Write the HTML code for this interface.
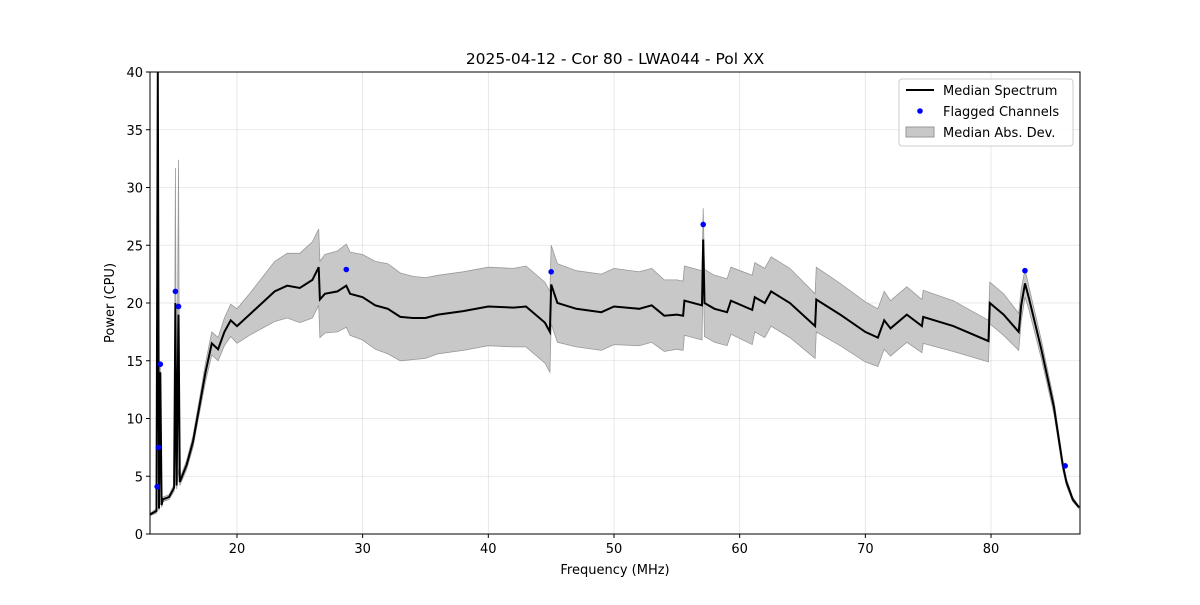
<!DOCTYPE html>
<html><head><meta charset="utf-8"><style>
body{margin:0;background:#fff;}
svg text{font-family:"DejaVu Sans","Liberation Sans",sans-serif;fill:#000;}
</style></head><body>
<svg id="chart" width="1200" height="600" xmlns="http://www.w3.org/2000/svg"></svg>
<script>
const freqs=[13.1,13.6,13.7,13.8,13.9,14.0,14.1,14.6,15.0,15.1,15.2,15.35,15.45,16,16.5,17,17.5,18,18.5,19,19.5,20,21,22,23,24,25,26,26.5,26.6,27,28,28.7,29,30,31,32,33,34,35,36,38,40,42,43,44.5,44.9,45.0,45.5,47,49,50,52,53,54,55,55.5,55.6,57,57.1,57.2,58,59,59.3,61,61.2,62,62.5,64,66,66.1,68,70,71,71.5,72,73.3,74.5,74.6,77,79.8,79.9,81,82.2,82.4,82.7,83,84,85,85.7,86,86.5,87];
const medianValues=[1.7,2.0,40,2.2,14,2.5,3,3.2,4,20,4.2,19,4.5,6,8,11,14,16.5,16,17.5,18.5,18,19,20,21,21.5,21.3,22,23.1,20.3,20.8,21,21.5,20.8,20.5,19.8,19.5,18.8,18.7,18.7,19,19.3,19.7,19.6,19.7,18.3,17.5,21.6,20,19.5,19.2,19.7,19.5,19.8,18.9,19,18.9,20.2,19.8,25.5,20,19.5,19.2,20.2,19.4,20.5,20,21,20,18,20.3,19,17.5,17,18.5,17.8,19,18,18.8,18,16.7,20,19,17.5,19.8,21.7,20.5,16,11,6,4.5,3,2.3];
const madWidths=[0.1,0.2,0.5,0.2,0.5,0.2,0.2,0.2,0.3,11.7,0.3,13.4,0.3,0.4,0.5,0.6,0.8,1,1,1.2,1.4,1.5,1.8,2.2,2.6,2.8,3,3.3,3.3,3.3,3.4,3.5,3.6,3.6,3.7,3.8,3.9,3.8,3.6,3.5,3.4,3.4,3.4,3.4,3.5,3.5,3.5,3.4,3.4,3.3,3.3,3.3,3.2,3.2,3.1,3.0,3.0,3.0,3.0,2.7,2.9,2.9,2.9,2.9,3.0,3.0,3.0,3.0,3.0,2.8,2.8,2.7,2.6,2.5,2.5,2.4,2.4,2.3,2.3,2.2,1.8,1.8,1.8,1.6,1.4,1.2,1.0,0.8,0.6,0.4,0.3,0.2,0.1];
const flagFreqs=[13.65,13.75,13.9,15.1,15.35,28.7,45.0,57.1,82.7,85.9];
const flagValues=[4.1,7.5,14.7,21.0,19.7,22.9,22.7,26.8,22.8,5.9];
const xTicks=[20,30,40,50,60,70,80];
const yTicks=[0,5,10,15,20,25,30,35,40];
const L=150,R=1080,T=72,B=534,xmin=13.08,xmax=87.08,ymin=0,ymax=40;
const X=f=>L+(f-xmin)/(xmax-xmin)*(R-L);
const Y=v=>B-(v-ymin)/(ymax-ymin)*(B-T);
const svg=document.getElementById('chart');
const NS='http://www.w3.org/2000/svg';
function mk(tag,attrs,parent){const e=document.createElementNS(NS,tag);for(const k in attrs)e.setAttribute(k,attrs[k]);(parent||svg).appendChild(e);return e;}
const clip=mk('clipPath',{id:'pc'});mk('rect',{x:L,y:T,width:R-L,height:B-T},clip);
xTicks.forEach(t=>{const g=mk('line',{x1:X(t),x2:X(t),y1:T,y2:B,stroke:'#b0b0b0','stroke-width':0.8,'stroke-opacity':0.35});

});
yTicks.forEach(t=>{const g=mk('line',{x1:L,x2:R,y1:Y(t),y2:Y(t),stroke:'#b0b0b0','stroke-width':0.8,'stroke-opacity':0.35});

});
let up=freqs.map((f,i)=>X(f).toFixed(1)+','+Y(medianValues[i]+madWidths[i]).toFixed(1));
let lo=freqs.map((f,i)=>X(f).toFixed(1)+','+Y(medianValues[i]-madWidths[i]).toFixed(1)).reverse();
const band=mk('polygon',{points:up.concat(lo).join(' '),fill:'#c8c8c8',stroke:'#999','stroke-width':0.8,'clip-path':'url(#pc)'});


const line=mk('polyline',{points:freqs.map((f,i)=>X(f).toFixed(1)+','+Y(medianValues[i]).toFixed(1)).join(' '),fill:'none',stroke:'#000','stroke-width':2,'clip-path':'url(#pc)'});


flagFreqs.forEach((f,i)=>{const c=mk('circle',{cx:X(f),cy:Y(flagValues[i]),r:2.8,fill:'#0000ff'});

});
const frame=mk('rect',{x:L,y:T,width:R-L,height:B-T,fill:'none',stroke:'#000','stroke-width':1});


xTicks.forEach(t=>{mk('line',{x1:X(t),x2:X(t),y1:B,y2:B+4,stroke:'#000'});
const tx=mk('text',{x:X(t),y:B+19,'text-anchor':'middle','font-size':13});tx.textContent=t;

});
yTicks.forEach(t=>{mk('line',{x1:L-4,x2:L,y1:Y(t),y2:Y(t),stroke:'#000'});
const tx=mk('text',{x:L-7,y:Y(t)+5,'text-anchor':'end','font-size':13});tx.textContent=t;

});
</script>
<svg style="position:absolute;left:0;top:0" width="1200" height="600">
<text x="615" y="64" text-anchor="middle" font-size="15.5">2025-04-12 - Cor 80 - LWA044 - Pol XX</text>
<text x="615" y="574" text-anchor="middle" font-size="13">Frequency (MHz)</text>
<text transform="translate(114,303) rotate(-90)" text-anchor="middle" font-size="13">Power (CPU)</text>
<g>
<rect x="899" y="79" width="174" height="67" rx="3" fill="#fff" fill-opacity="0.8" stroke="#ccc"/>
<line x1="906" y1="90" x2="934" y2="90" stroke="#000" stroke-width="2"/>
<text x="943" y="95" font-size="13">Median Spectrum</text>
<circle cx="920" cy="111" r="2.8" fill="#00f"/>
<text x="943" y="116" font-size="13">Flagged Channels</text>
<rect x="906" y="127" width="28" height="10" fill="#c8c8c8" stroke="#999"/>
<text x="943" y="137" font-size="13">Median Abs. Dev.</text>
</g>
</svg>
</body></html>
